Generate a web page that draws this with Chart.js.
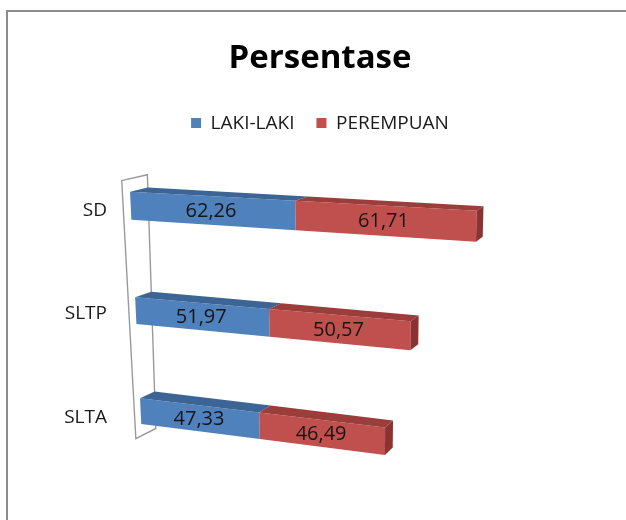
<!DOCTYPE html>
<html><head><meta charset="utf-8">
<script src="https://cdn.jsdelivr.net/npm/chart.js@4.4.0/dist/chart.umd.min.js"></script>
<style>html,body{margin:0;padding:0;background:#fff;}</style>
</head><body>
<canvas id="c" width="626" height="520"></canvas>
<script>
// ---- data ----
const categories = ['SD', 'SLTP', 'SLTA'];
const seriesNames = ['LAKI-LAKI', 'PEREMPUAN'];
const lakiLaki = [62.26, 51.97, 47.33];
const perempuan = [61.71, 50.57, 46.49];

// ---- styles ----
const BLUE = {front: '#4F81BD', top: '#3C6596', side: '#35598A'};
const RED  = {front: '#C0504D', top: '#9B3D3B', side: '#8A3331'};
const PALETTE = [BLUE, RED];

// 3D view: the flat plot area rectangle is projected onto this quad (TL, TR, BR, BL)
const VIEW_QUAD = [[128.1,151.6],[661.8,174.4],[641.5,528.8],[143.0,459.9]];

function solveH(src, dst){
  const A=[], b=[];
  for(let i=0;i<4;i++){
    const [x,y]=src[i], [u,v]=dst[i];
    A.push([x,y,1,0,0,0,-x*u,-y*u]); b.push(u);
    A.push([0,0,0,x,y,1,-x*v,-y*v]); b.push(v);
  }
  const n=8;
  for(let c=0;c<n;c++){
    let p=c; for(let r=c+1;r<n;r++) if(Math.abs(A[r][c])>Math.abs(A[p][c])) p=r;
    [A[c],A[p]]=[A[p],A[c]]; [b[c],b[p]]=[b[p],b[c]];
    for(let r=0;r<n;r++){ if(r===c) continue; const f=A[r][c]/A[c][c]; for(let k=c;k<n;k++) A[r][k]-=f*A[c][k]; b[r]-=f*b[c]; }
  }
  return b.map((v,i)=>v/A[i][i]);
}
function applyH(h,x,y){ const w=h[6]*x+h[7]*y+1; return [(h[0]*x+h[1]*y+h[2])/w,(h[3]*x+h[4]*y+h[5])/w]; }
// depth (receding) offset of a projected point, z = fraction of full depth
function depth(p,z){
  const dx = 0.045*(700-p[0])*(1-0.0008*(p[1]-178));
  const dy = -6.1 - 0.017*(p[1]-192);
  return [p[0]+dx*z, p[1]+dy*z];
}
function poly(ctx, pts, fill){
  ctx.beginPath(); ctx.moveTo(pts[0][0],pts[0][1]);
  for(let i=1;i<pts.length;i++) ctx.lineTo(pts[i][0],pts[i][1]);
  ctx.closePath(); ctx.fillStyle=fill; ctx.fill();
}

const frame = {
  id:'frame',
  beforeDraw(chart){
    const c=chart.ctx; c.save();
    c.fillStyle='#fff'; c.fillRect(0,0,chart.width,chart.height);
    c.strokeStyle='#8C8C8C'; c.lineWidth=2; c.strokeRect(7,11,700,600);
    c.restore();
  }
};
const legendGap = {
  id:'legendGap',
  beforeUpdate(chart){
    const lg = chart.legend;
    if(lg && !lg._gapPatched){
      const fit = lg.fit;
      lg.fit = function(){ fit.call(this); this.height += 16; };
      lg._gapPatched = true;
    }
  }
};
const perspective = {
  id:'perspective',
  beforeDatasetsDraw(chart){
    const {ctx, chartArea:ca} = chart;
    const xs = chart.scales.x, ys = chart.scales.y;
    const H = solveH([[ca.left,ca.top],[ca.right,ca.top],[ca.right,ca.bottom],[ca.left,ca.bottom]], VIEW_QUAD);
    const last = categories.length-1;
    ctx.save();
    // category wall
    const band = ys.getPixelForValue(1)-ys.getPixelForValue(0);
    const x0 = xs.getPixelForValue(0);
    const pT = applyH(H,x0,ys.getPixelForValue(0)-band*0.25);
    const pB = applyH(H,x0,ys.getPixelForValue(last)+band*0.25);
    const w = [depth(pT,-0.3), depth(pT,0.7), depth(pB,0.7), depth(pB,-0.3)];
    ctx.beginPath(); ctx.moveTo(w[0][0],w[0][1]); for(let i=1;i<4;i++) ctx.lineTo(w[i][0],w[i][1]); ctx.closePath();
    ctx.strokeStyle='#9A9A9A'; ctx.lineWidth=1.4; ctx.stroke();
    // bars
    const metas = chart.data.datasets.map((_,d)=>chart.getDatasetMeta(d));
    const labels=[];
    for(let i=0;i<categories.length;i++){
      metas.forEach((meta,d)=>{
        const el = meta.data[i];
        const {x,y,base,height} = el.getProps(['x','y','base','height'], true);
        const t=y-height/2, b=y+height/2;
        const FLT=applyH(H,base,t), FRT=applyH(H,x,t), FRB=applyH(H,x,b), FLB=applyH(H,base,b);
        const col = PALETTE[d];
        poly(ctx,[FLT,FRT,FRB,FLB],col.front);
        poly(ctx,[FLT,FRT,depth(FRT,0.7),depth(FLT,0.7)],col.top);
        if(d===metas.length-1) poly(ctx,[FRT,FRB,depth(FRB,0.7),depth(FRT,0.7)],col.side);
        const v = chart.data.datasets[d].data[i];
        labels.push([applyH(H,(base+x)/2,y), v.toFixed(2).replace('.',',')]);
      });
    }
    ctx.fillStyle='#151515'; ctx.font='20px "Open Sans"'; ctx.textAlign='center'; ctx.textBaseline='middle';
    labels.forEach(([p,s])=>ctx.fillText(s,p[0],p[1]+1));
    ctx.restore();
    return false;
  }
};

new Chart(document.getElementById('c'), {
  type:'bar',
  data:{ labels: categories, datasets:[
    {label: seriesNames[0], data: lakiLaki, backgroundColor: BLUE.front, borderWidth:0, barThickness:27},
    {label: seriesNames[1], data: perempuan, backgroundColor: RED.front, borderWidth:0, barThickness:27}
  ]},
  options:{
    indexAxis:'y', responsive:false, animation:false, devicePixelRatio:1,
    layout:{padding:{left:14, right:0, top:0, bottom:51}},
    scales:{
      x:{stacked:true, min:0, max:180, display:false},
      y:{stacked:true, grid:{display:false, drawTicks:false}, border:{display:false},
         ticks:{padding:27, color:'#1A1A1A', font:{family:'Open Sans', size:19}},
         afterFit(s){ s.width = 120; }}
    },
    plugins:{
      title:{display:true, text:'Persentase', color:'#000', font:{family:'Open Sans', size:33, weight:'bold'}, padding:{top:39, bottom:13}},
      legend:{position:'top', labels:{boxWidth:10, boxHeight:10, padding:22, color:'#1A1A1A', font:{family:'Open Sans', size:19}}},
      tooltip:{enabled:false}
    }
  },
  plugins:[frame, legendGap, perspective]
});
</script>
</body></html>
